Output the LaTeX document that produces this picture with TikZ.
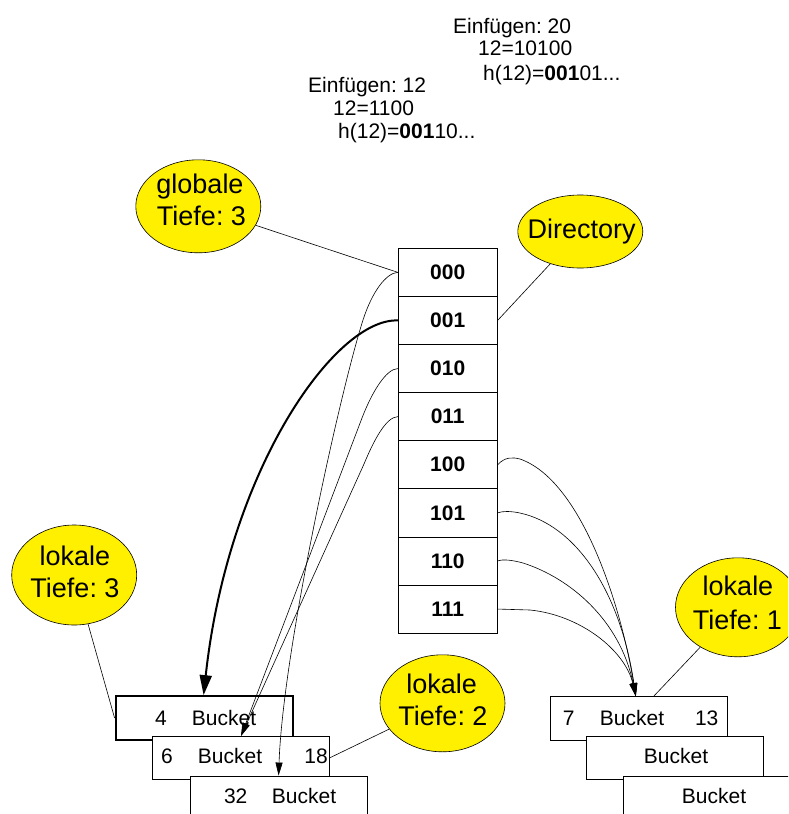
\documentclass[tikz,border=0pt]{standalone}
\usepackage{fontspec}
\setmainfont{Liberation Sans}
\usetikzlibrary{shapes.geometric,arrows.meta,calc}
\definecolor{balloonyellow}{RGB}{255,240,0}
\frenchspacing
\begin{document}
\frenchspacing
\begin{tikzpicture}[x=1pt,y=-1pt,
  txt/.style={font=\fontsize{21}{25}\selectfont, inner sep=0pt},
  btxt/.style={font=\fontsize{27}{32}\selectfont, inner sep=0pt, anchor=base},
  dircell/.style={draw, fill=white, line width=0.8pt, minimum width=99pt, minimum height=48.1pt, inner sep=0pt, font=\fontsize{21}{25}\selectfont\bfseries},
  bucket/.style={draw, fill=white, line width=0.8pt, minimum width=177pt, minimum height=43.5pt, inner sep=0pt},
  balloon/.style={ellipse, draw, fill=balloonyellow, line width=0.6pt, inner sep=0pt},
  leader/.style={line width=0.6pt},
  arr/.style={line width=0.6pt, -{Triangle[length=13pt,width=7pt]}},
  thickarr/.style={line width=2pt, -{Triangle[length=20pt,width=12pt]}},
]
\path[use as bounding box] (0,0) rectangle (788,814);
\clip (0,0) rectangle (788,814);

% top texts
\node[txt, anchor=base west] (ta1) at (453,33) {Einfügen: 20};
\node[txt, anchor=base west] (ta2) at (478,55) {12=10100};
\node[txt, anchor=base west] (ta3) at (483,80.5) {h(12)=\textbf{001}01...};
\node[txt, anchor=base west] (tb1) at (308,92.7) {Einfügen: 12};
\node[txt, anchor=base west] (tb2) at (333,115) {12=1100};
\node[txt, anchor=base west] (tb3) at (338,138.3) {h(12)=\textbf{001}10...};

% directory
\foreach \lab [count=\i from 0] in {000,001,010,011,100,101,110,111}
  \node[dircell] (d\i) at (447.7,{272.35+48.1*\i}) {\lab};

% balloons
\node[balloon, minimum width=125pt, minimum height=93pt] (glob) at (198.3,206.3) {};
\node[btxt] (globa) at (200,193.3) {globale};
\node[btxt] (globb) at (201.5,225) {Tiefe: 3};

\node[balloon, minimum width=125pt, minimum height=73pt] (dir) at (580.3,231.5) {};
\node[btxt] (dirt) at (581.7,238.3) {Directory};

\node[balloon, minimum width=125pt, minimum height=100pt] (l3) at (74.2,575) {};
\node[btxt] (l3a) at (75,565) {lokale};
\node[btxt] (l3b) at (75,597.3) {Tiefe: 3};

\node[balloon, minimum width=125pt, minimum height=97pt] (l2) at (442.5,703.3) {};
\node[btxt] (l2a) at (441.7,693.3) {lokale};
\node[btxt] (l2b) at (443,725) {Tiefe: 2};

\node[balloon, minimum width=125pt, minimum height=99pt] (l1) at (738,607.3) {};
\node[btxt] (l1a) at (738,595) {lokale};
\node[btxt] (l1b) at (737.5,629.3) {Tiefe: 1};

% buckets left
\node[bucket, line width=2.2pt] (b4) at (204.2,718) {};
\node[txt, anchor=base] (b4k) at (161,725) {4};
\node[txt, anchor=base] (b4t) at (224,725) {Bucket};
\node[bucket] (b6) at (240.5,758) {};
\node[txt, anchor=base] (b6k) at (167,763.5) {6};
\node[txt, anchor=base] (b6t) at (230,763.5) {Bucket};
\node[txt, anchor=base] (b6m) at (316,763.5) {18};
\node[bucket] (b32) at (278.5,797.7) {};
\node[txt, anchor=base] (b32k) at (235.7,803) {32};
\node[txt, anchor=base] (b32t) at (304,803) {Bucket};

% buckets right
\node[bucket] (b7) at (638.7,718.3) {};
\node[txt, anchor=base] (b7k) at (568.7,725) {7};
\node[txt, anchor=base] (b7t) at (632,725) {Bucket};
\node[txt, anchor=base] (b7m) at (706.7,725) {13};
\node[bucket] (b2) at (675,757.7) {};
\node[txt, anchor=base] (b2t) at (676,763.5) {Bucket};
\node[bucket] (b3) at (712.3,797.7) {};
\node[txt, anchor=base] (b3t) at (714,803) {Bucket};

% leaders
\draw[leader] (glob) -- (d0.west);
\draw[leader] (dir) -- (d1.east);
\draw[leader] (l3) -- (b4.west);
\draw[leader] (l2) -- (b6.east);
\draw[leader] (l1) -- ([xshift=104pt]b7.north west);

% pointers left
\draw[arr] (d0.west) .. controls (386,273) and (372,292) .. (363,320)
  .. controls (340,392) and (283,650) .. ([xshift=89pt]b32.north west);
\draw[thickarr] (d1.west) .. controls (335,318) and (228,470) .. ([xshift=89pt]b4.north west);
\draw[arr] (d2.west) .. controls (386,369) and (372,392) .. (362,418) -- ([xshift=89.5pt]b6.north west);
\draw[arr] (d3.west) .. controls (386,417) and (374,440) .. (364,464) -- ([xshift=89.5pt]b6.north west);

% pointers right
\draw[arr] (d4.east) .. controls (505,457) and (512,457) .. (520,459)
  .. controls (580,480) and (620,600) .. ([xshift=86pt]b7.north west);
\draw[arr] (d5.east) .. controls (503,511) and (510,511) .. (520,513)
  .. controls (575,525) and (620,590) .. ([xshift=86pt]b7.north west);
\draw[arr] (d6.east) .. controls (503,559) and (512,560) .. (523,563)
  .. controls (570,578) and (620,620) .. ([xshift=86pt]b7.north west);
\draw[arr] (d7.east) -- (530,610)
  .. controls (580,615) and (625,650) .. ([xshift=86pt]b7.north west);
\end{tikzpicture}
\end{document}
